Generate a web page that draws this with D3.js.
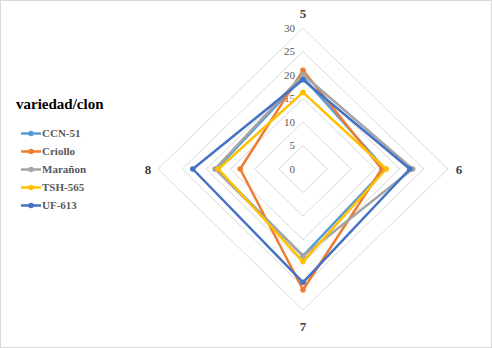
<!DOCTYPE html>
<html>
<head>
<meta charset="utf-8">
<script src="https://cdn.jsdelivr.net/npm/d3@7"></script>
<style>
  body { margin: 0; background: #fff; }
  text { font-family: "Liberation Serif", "DejaVu Serif", serif; }
</style>
</head>
<body>
<div id="chart"></div>
<script>
// chart data
var axes = ['5', '6', '7', '8']
var series_names = ['CCN-51', 'Criollo', 'Marañon', 'TSH-565', 'UF-613']
var ccn51 = [19.5, 17.0, 18.5, 17.9]
var criollo = [21.0, 16.3, 25.7, 13.0]
var maranon = [20.1, 22.7, 18.5, 18.2]
var tsh565 = [16.3, 17.2, 19.7, 17.5]
var uf613 = [19.0, 22.1, 24.1, 22.8]
var ticks = [0, 5, 10, 15, 20, 25, 30]
var legend_title = 'variedad/clon'

var colors = ['#5b9bd5', '#ed7d31', '#a5a5a5', '#ffc000', '#4472c4']
var all_series = [ccn51, criollo, maranon, tsh565, uf613]

var width = 492, height = 348
var cx = 303, cy = 169, rx = 145, ry = 141
var serif = 'Liberation Serif, DejaVu Serif, serif'

var svg = d3.select('#chart')
    .append('svg')
    .attr('width', width)
    .attr('height', height)
    .attr('font-family', serif)

svg.append('rect')
    .attr('x', 0.5).attr('y', 0.5)
    .attr('width', width - 1).attr('height', height - 1)
    .attr('fill', '#fff')
    .attr('stroke', '#d9d9d9')

var r = d3.scaleLinear().domain([0, 30]).range([0, 1])
var angle = d3.scalePoint().domain(axes).range([0, 2 * Math.PI * 3 / 4])

var pos = (axis, v) => {
    var a = angle(axis)
    return [cx + Math.sin(a) * r(v) * rx, cy - Math.cos(a) * r(v) * ry]
}

// grid rings
svg.append('g')
    .selectAll('path')
    .data(ticks.slice(1))
    .enter()
    .append('path')
    .attr('d', t => d3.line()(axes.map(a => pos(a, t))) + 'Z')
    .attr('fill', 'none')
    .attr('stroke', '#d9d9d9')
    .attr('stroke-width', 1)

// tick labels
svg.append('g')
    .selectAll('text')
    .data(ticks)
    .enter()
    .append('text')
    .attr('x', cx - 8)
    .attr('y', t => pos(axes[0], t)[1])
    .attr('dy', '0.35em')
    .attr('text-anchor', 'end')
    .attr('font-family', serif)
    .attr('font-size', 11)
    .attr('fill', '#595959')
    .text(t => t)

// axis labels
var label_off = { '5': [0, -15], '6': [11, 0], '7': [0, 16], '8': [-10, 0] }
svg.append('g')
    .selectAll('text')
    .data(axes)
    .enter()
    .append('text')
    .attr('x', a => pos(a, 30)[0] + label_off[a][0])
    .attr('y', a => pos(a, 30)[1] + label_off[a][1])
    .attr('dy', '0.35em')
    .attr('text-anchor', 'middle')
    .attr('font-family', serif)
    .attr('font-size', 13)
    .attr('font-weight', 'bold')
    .attr('fill', '#404040')
    .text(a => a)

// series
var line = d3.line()
all_series.forEach((vals, i) => {
    var pts = axes.map((a, j) => pos(a, vals[j]))
    var g = svg.append('g')
    g.append('path')
        .attr('d', line(pts) + 'Z')
        .attr('fill', 'none')
        .attr('stroke', colors[i])
        .attr('stroke-width', 2.5)
        .attr('stroke-linejoin', 'round')
    g.selectAll('circle')
        .data(pts)
        .enter()
        .append('circle')
        .attr('cx', d => d[0])
        .attr('cy', d => d[1])
        .attr('r', 2.8)
        .attr('fill', colors[i])
})

// legend
svg.append('text')
    .attr('x', 16)
    .attr('y', 104)
    .attr('dy', '0.35em')
    .attr('font-family', serif)
    .attr('font-size', 15)
    .attr('font-weight', 'bold')
    .attr('fill', '#000')
    .text(legend_title)

var legend = svg.append('g')
    .selectAll('g')
    .data(series_names)
    .enter()
    .append('g')
    .attr('transform', (d, i) => `translate(0,${133.5 + i * 18})`)

legend.append('line')
    .attr('x1', 21).attr('x2', 41)
    .attr('stroke', (d, i) => colors[i])
    .attr('stroke-width', 2.5)
legend.append('circle')
    .attr('cx', 31)
    .attr('r', 2.8)
    .attr('fill', (d, i) => colors[i])
legend.append('text')
    .attr('x', 42)
    .attr('dy', '0.35em')
    .attr('font-family', serif)
    .attr('font-size', 11)
    .attr('font-weight', 'bold')
    .attr('fill', '#595959')
    .text(d => d)
</script>
</body>
</html>
